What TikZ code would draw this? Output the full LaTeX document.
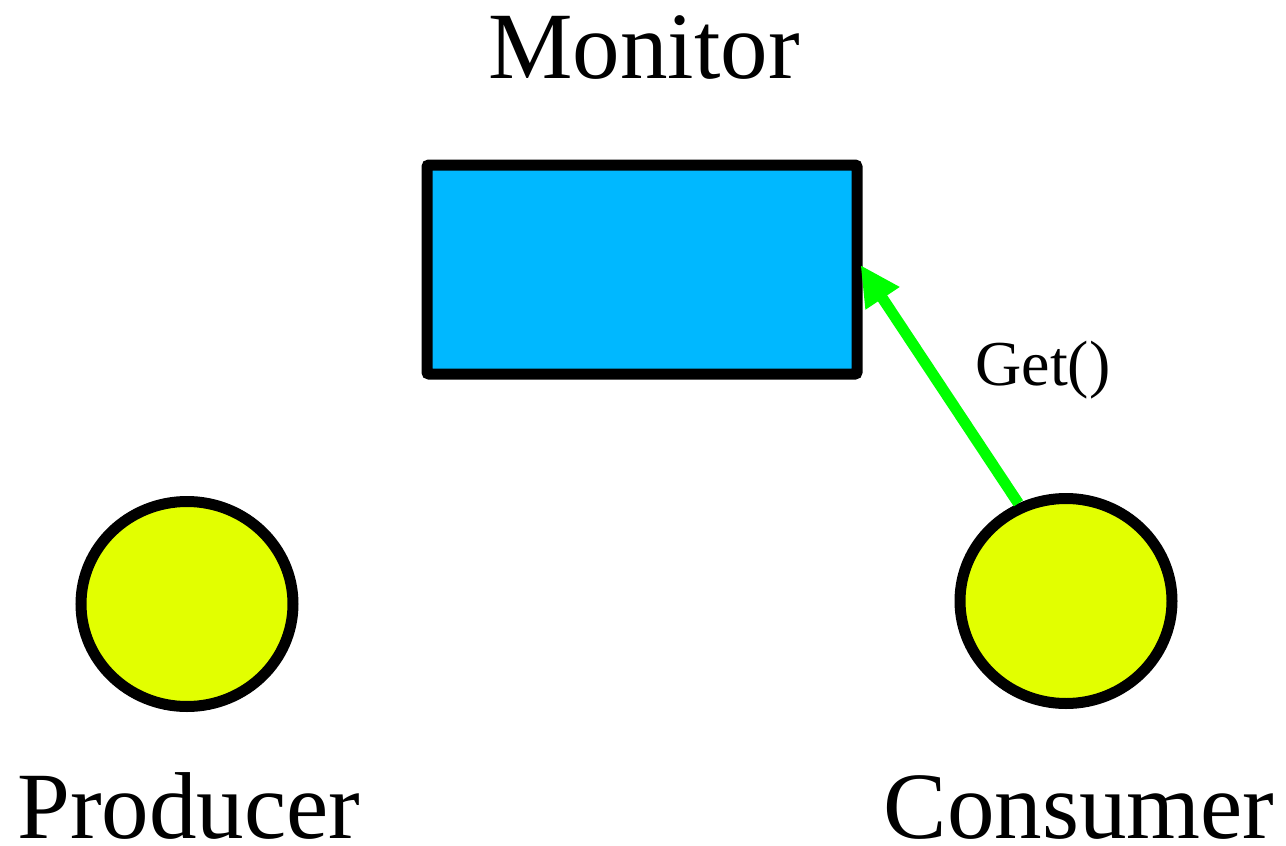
\documentclass[tikz,border=0pt]{standalone}
\usepackage{fontspec}
\setmainfont{Liberation Serif}
\usetikzlibrary{shapes.geometric,arrows.meta}
\definecolor{monblue}{RGB}{0,184,255}
\definecolor{procyellow}{RGB}{226,255,0}
\definecolor{callgreen}{RGB}{0,255,0}
\tikzset{
  monbox/.style={draw=black, fill=monblue, line width=11pt, rectangle, rounded corners=2pt, minimum width=430pt, minimum height=209pt, inner sep=0pt},
  proc/.style={draw=black, fill=procyellow, line width=11pt, ellipse, minimum width=212pt, minimum height=205pt, inner sep=0pt},
  bigtext/.style={font=\fontsize{95pt}{100pt}\selectfont, anchor=base, inner sep=0pt},
  smalltext/.style={font=\fontsize{64pt}{70pt}\selectfont, anchor=base, inner sep=0pt},
  call/.style={draw=callgreen, line width=11pt, -{Triangle[length=40pt, width=38pt]}}
}
\begin{document}
\begin{tikzpicture}[x=1pt, y=-1pt]
\useasboundingbox (0,0) rectangle (1286,846);
\node[monbox] (mon) at (642,269.5) {};
\node[proc] (prod) at (187,604) {};
\node[proc] (cons) at (1066,601) {};
\node[bigtext] (montxt) at (644,78) {Monitor};
\node[bigtext] (prodtxt) at (189,838) {Producer};
\node[bigtext] (constxt) at (1079,838) {Consumer};
\draw[call] (cons.116) -- ([xshift=-2pt,yshift=4.5pt]mon.east);
\node[smalltext] (gettxt) at (1043,385) {Get()};
\end{tikzpicture}
\end{document}
